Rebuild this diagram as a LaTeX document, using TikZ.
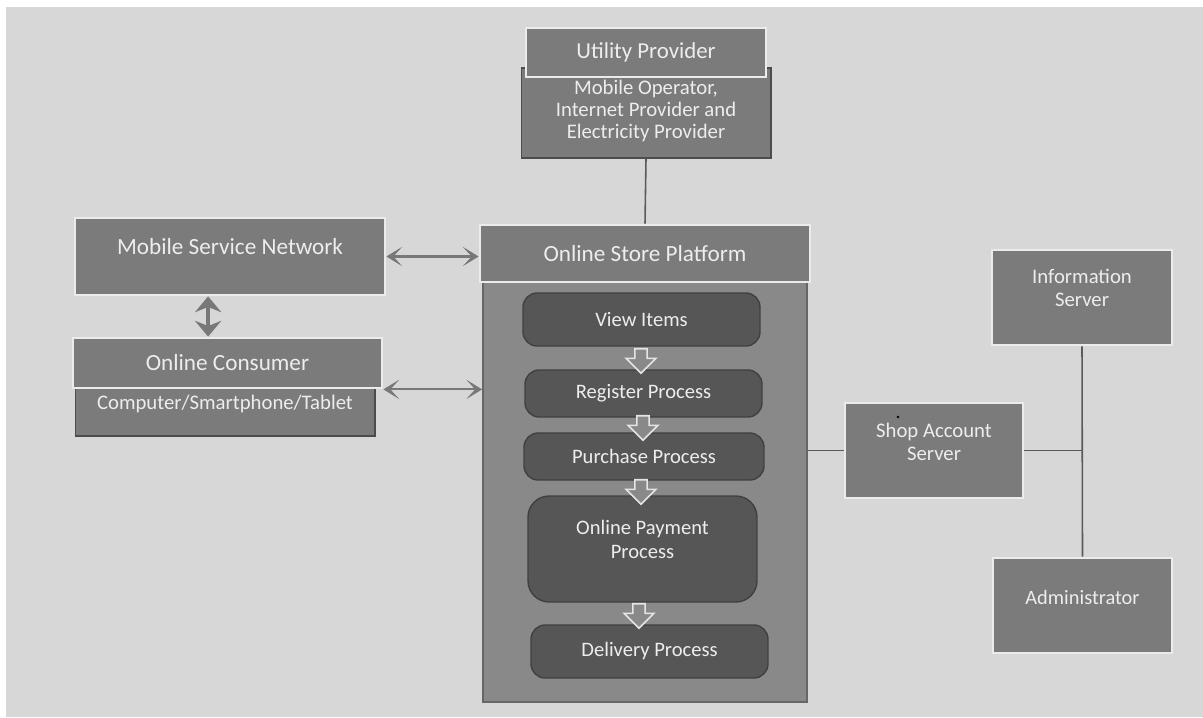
\documentclass[tikz,border=0pt]{standalone}
\usepackage{fontspec}
\setmainfont{Carlito}
\usetikzlibrary{arrows.meta,shapes.arrows,calc}
\definecolor{bgc}{HTML}{D7D7D7}
\definecolor{boxc}{HTML}{7B7B7B}
\definecolor{innerc}{HTML}{565656}
\definecolor{contc}{HTML}{898989}
\definecolor{txtc}{HTML}{EDEDED}
\definecolor{linec}{HTML}{5A5A5A}
\definecolor{arrc}{HTML}{787878}
\tikzset{
  hdr/.style={draw=white!92!black, line width=1.6pt, fill=boxc, text=txtc, inner sep=0pt, font=\fontsize{11.8}{14}\selectfont},
  bodybox/.style={draw=black!70, line width=0.6pt, fill=boxc, text=txtc, inner sep=0pt},
  cont/.style={draw=black!60, line width=1pt, fill=contc, inner sep=0pt},
  proc/.style={draw=black!75, line width=0.8pt, fill=innerc, rounded corners=8pt, text=txtc, inner sep=0pt, font=\fontsize{11.7}{13}\selectfont, align=center},
  txt/.style={text=txtc, inner sep=0pt, align=center},
  blk/.style={single arrow, draw=white!90!black, line width=0.9pt, fill=contc, shape border rotate=270, single arrow head extend=5pt, minimum width=17pt, minimum height=14pt, inner sep=3pt},
  dbl/.style={draw=arrc, line width=1.2pt, {Stealth[length=9pt,width=11pt,inset=5pt]}-{Stealth[length=9pt,width=11pt,inset=5pt]}},
  dblv/.style={draw=arrc, line width=2.6pt, {Stealth[length=9pt,width=15pt,inset=3pt]}-{Stealth[length=9pt,width=15pt,inset=3pt]}},
  conn/.style={draw=linec, line width=0.9pt}
}
\begin{document}
\begin{tikzpicture}[x=0.02cm,y=-0.02cm]
\useasboundingbox (0,0) rectangle (1203,717);
\fill[white] (0,0) rectangle (1203,717);
\fill[bgc] (6,7) rectangle (1203,717);

% Utility provider
\node[bodybox, minimum width=5.0cm, minimum height=1.8cm] (upbody) at (646,113) {};
\node[txt, font=\fontsize{11.8}{12.5}\selectfont] (uptext) at (646,111) {Mobile Operator,\\Internet Provider and\\Electricity Provider};
\node[hdr, minimum width=4.8cm, minimum height=0.98cm, font=\fontsize{13}{15}\selectfont] (uphead) at (646,52.5) {Utility Provider};

% Online store platform container
\node[cont, minimum width=6.48cm, minimum height=8.64cm] (ospbody) at (645,486) {};
\node[hdr, minimum width=6.6cm, minimum height=1.14cm, font=\fontsize{13.2}{15}\selectfont] (osphead) at (645,253.5) {Online Store Platform};

% process boxes
\node[proc, minimum width=4.74cm, minimum height=1.06cm] (view) at (641.5,319.5) {View Items};
\node[proc, minimum width=4.74cm, minimum height=0.94cm] (reg) at (643.5,393.5) {Register Process};
\node[proc, minimum width=4.8cm, minimum height=0.94cm] (pur) at (644,456.5) {Purchase Process};
\node[proc, minimum width=4.58cm, minimum height=2.12cm, rounded corners=12pt] (pay) at (642.5,549) {};
\node[txt, font=\fontsize{11.7}{13.6}\selectfont] (paytext) at (642.5,539) {Online Payment\\Process};
\node[proc, minimum width=4.74cm, minimum height=1.06cm] (del) at (649.5,651.5) {Delivery Process};

% block arrows
\node[blk] (a1) at (641,358) {};
\node[blk] (a2) at (643,425) {};
\node[blk] (a3) at (641,489) {};
\node[blk] (a4) at (639,613) {};

% left side
\node[hdr, minimum width=6.2cm, minimum height=1.54cm] (msn) at (230,256.5) {};
\node[txt, font=\fontsize{13.2}{15}\selectfont] (msntext) at (230,247) {Mobile Service Network};
\node[bodybox, minimum width=6.0cm, minimum height=1.12cm] (ocbody) at (225,408) {};
\node[txt, font=\fontsize{11.8}{13}\selectfont] (octext) at (225,404) {Computer/Smartphone/Tablet};
\node[hdr, minimum width=6.18cm, minimum height=1.0cm, font=\fontsize{13.2}{15}\selectfont] (ochead) at (227.5,363) {Online Consumer};

% right side
\node[hdr, minimum width=3.6cm, minimum height=1.9cm] (info) at (1082,297.5) {};
\node[txt, font=\fontsize{11.8}{13}\selectfont] (infotext) at (1082,288) {Information\\Server};
\node[hdr, minimum width=3.56cm, minimum height=1.9cm] (sas) at (934,450.5) {};
\node[txt, font=\fontsize{11.8}{13}\selectfont] (sastext) at (934,442) {Shop Account\\Server};
\node[hdr, minimum width=3.58cm, minimum height=1.9cm] (adm) at (1082.5,605.5) {};
\node[txt, font=\fontsize{11.6}{13}\selectfont] (admtext) at (1082.5,597) {Administrator};
\fill[black] (898,417) circle (1.3);

% connectors
\draw[conn] (upbody.south) -- (osphead.north);
\draw[dbl] (msn.east) -- (msn.east -| osphead.west);
\draw[dbl] (ochead.south east) -- (ochead.south east -| ospbody.west);
\coordinate (mv) at ($(msn.south west)!0.43!(msn.south east)$);
\draw[dblv] (mv) -- (mv |- ochead.north);
\draw[conn] (sas.west -| ospbody.east) -- (sas.west);
\coordinate (junc) at (sas.east -| info.south);
\draw[conn] (sas.east) -- (junc);
\draw[conn] (info.south) -- (adm.north);
\end{tikzpicture}
\end{document}
